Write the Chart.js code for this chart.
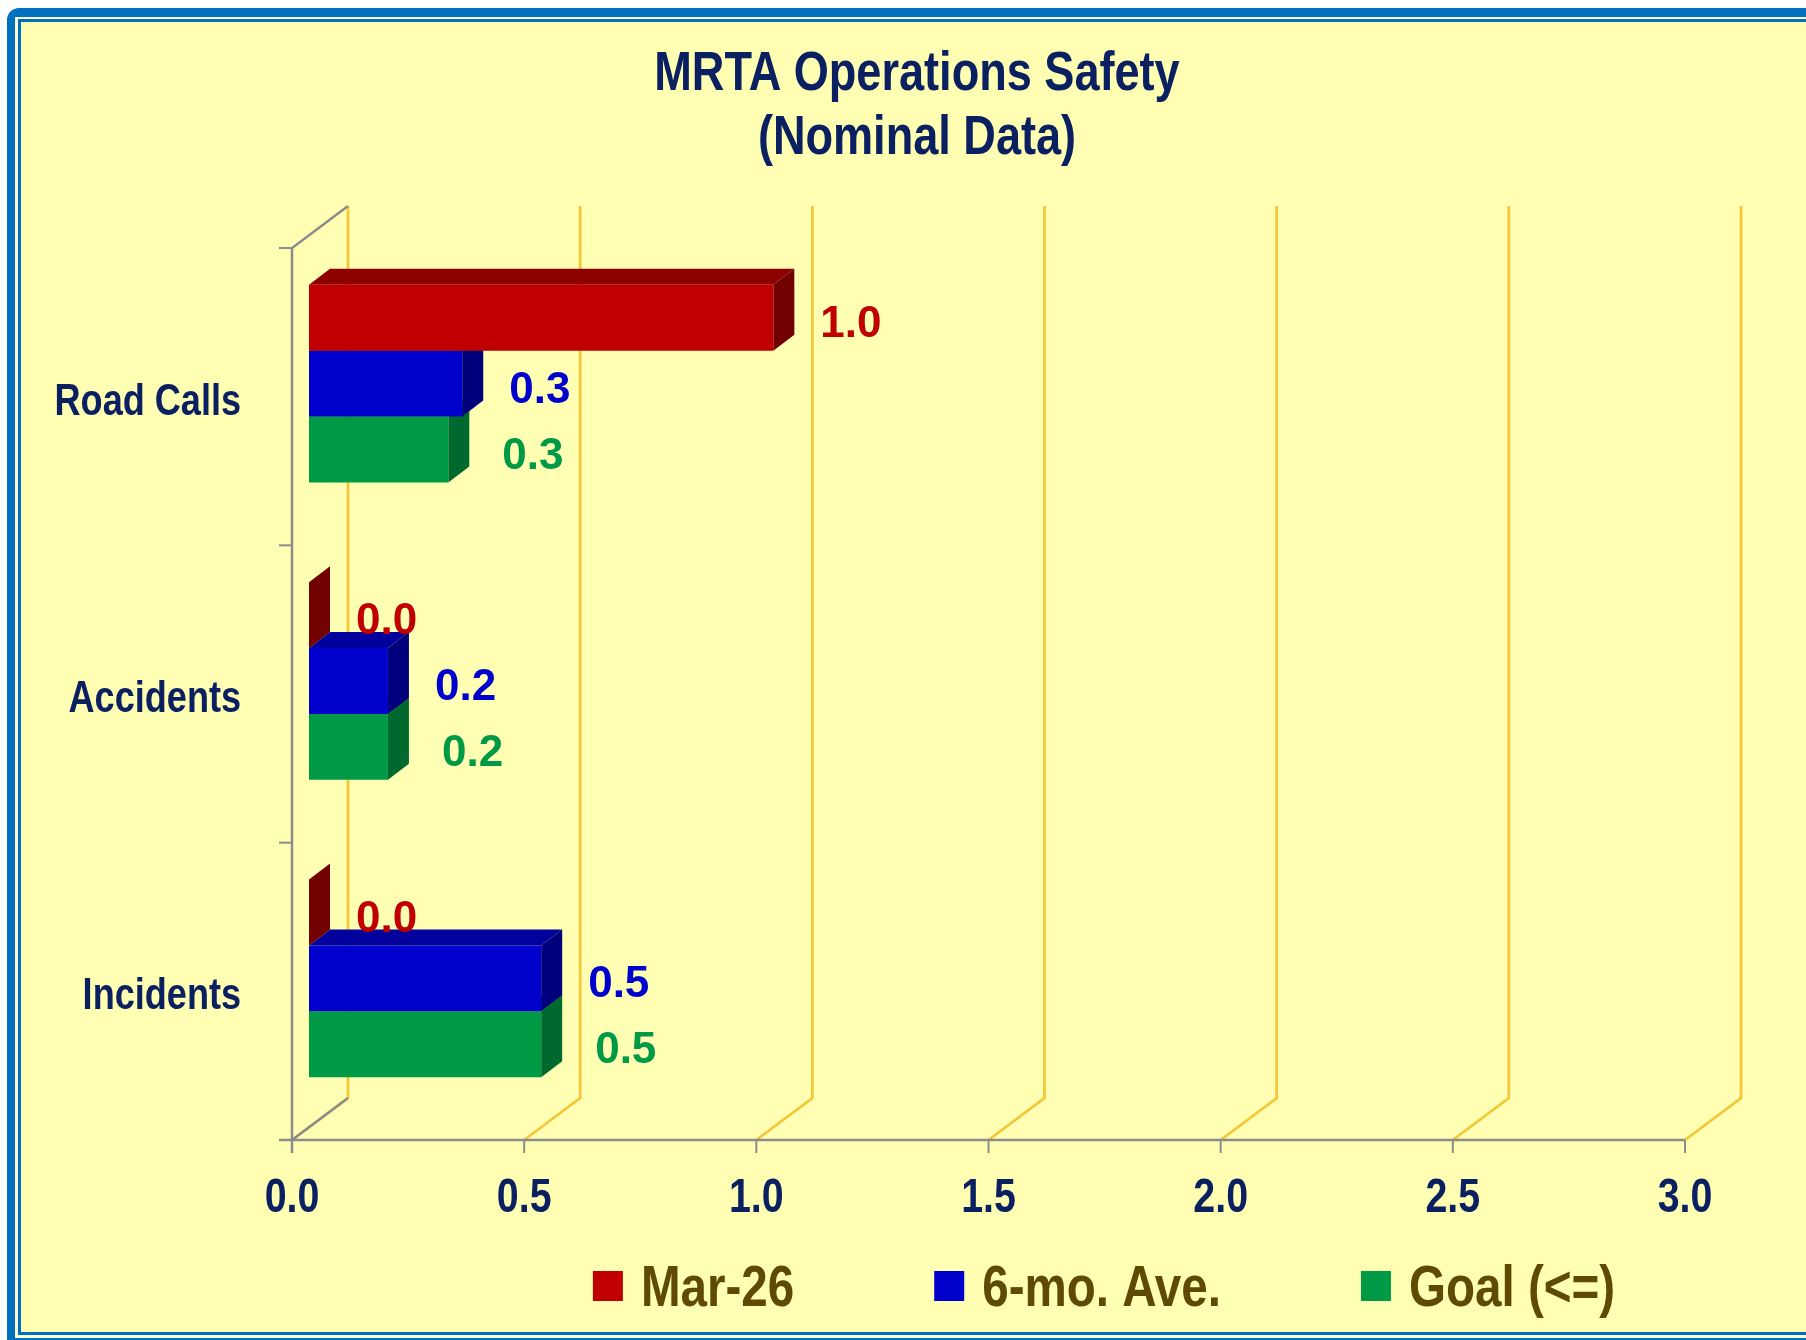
<!DOCTYPE html>
<html>
<head>
<meta charset="utf-8">
<title>MRTA Operations Safety</title>
<script src="https://cdn.jsdelivr.net/npm/chart.js@4.4.1/dist/chart.umd.min.js"></script>
<style>
  html, body { margin: 0; padding: 0; background: #ffffff; }
  #wrap { width: 1806px; height: 1340px; }
</style>
</head>
<body>
<div id="wrap"><canvas id="safetyChart" width="1806" height="1340"></canvas></div>
<script>
// chart data
const titleLines = ['MRTA Operations Safety', '(Nominal Data)'];
const categories = ['Road Calls', 'Accidents', 'Incidents'];
const seriesNames = ['Mar-26', '6-mo. Ave.', 'Goal (<=)'];
const mar26 = [1.0, 0.0, 0.0];
const sixMoAve = [0.33, 0.17, 0.5];
const goal = [0.30, 0.17, 0.5];
const xMin = 0, xMax = 3, xStep = 0.5;

const WIDE = '"Liberation Sans", Arial, sans-serif';
const NARROW_K = 0.82;   // no Arial Narrow here, so squeeze Liberation Sans
const NAVY = '#0b2060';

// front / top / side shades for each series
const shades = [
    {front: '#c00000', top: '#8e0000', side: '#730000'},
    {front: '#0000cc', top: '#00009c', side: '#00007c'},
    {front: '#009a46', top: '#007a36', side: '#006a2e'}
];
const labelGap = [47, 47, 54];

const SHIFT = {x: 17, y: -13};   // bar plane relative to front plane
const DEPTH = {x: 21, y: -16};   // bar depth
const WALL = {x: 56, y: -42};    // back wall relative to front plane

function poly(ctx, pts, fill) {
    ctx.beginPath();
    ctx.moveTo(pts[0][0], pts[0][1]);
    for (let i = 1; i < pts.length; i++) ctx.lineTo(pts[i][0], pts[i][1]);
    ctx.closePath();
    ctx.fillStyle = fill;
    ctx.fill();
}

function line(ctx, pts, color, w) {
    ctx.beginPath();
    ctx.moveTo(pts[0][0], pts[0][1]);
    for (let i = 1; i < pts.length; i++) ctx.lineTo(pts[i][0], pts[i][1]);
    ctx.strokeStyle = color;
    ctx.lineWidth = w;
    ctx.stroke();
}

function narrowText(ctx, text, x, y, size, color, align) {
    ctx.save();
    ctx.font = `bold ${size}px ${WIDE}`;
    ctx.fillStyle = color;
    ctx.textAlign = align;
    ctx.textBaseline = 'middle';
    ctx.translate(x, y);
    ctx.scale(NARROW_K, 1);
    ctx.fillText(text, 0, 0);
    ctx.restore();
}

function narrowWidth(ctx, text, size) {
    ctx.save();
    ctx.font = `bold ${size}px ${WIDE}`;
    const w = ctx.measureText(text).width * NARROW_K;
    ctx.restore();
    return w;
}

const box3d = {
    id: 'box3d',
    beforeDraw(chart) {
        const {ctx, width, height} = chart;
        ctx.save();
        ctx.fillStyle = '#ffffff';
        ctx.fillRect(0, 0, width, height);
        ctx.fillStyle = '#0070c0';
        ctx.beginPath();
        ctx.roundRect(7, 8, width + 40, height + 40, 12);
        ctx.fill();
        ctx.fillStyle = '#ffffd2';
        ctx.fillRect(15, 17, width, 1338 - 17);
        ctx.fillStyle = '#0070c0';
        ctx.fillRect(18, 19, width, 1335 - 19);
        ctx.fillStyle = '#ffffb4';
        ctx.fillRect(21, 22, width, 1332 - 22);
        ctx.restore();

        // title
        titleLines.forEach((t, i) => narrowText(ctx, t, 917, 75 + i * 64, 55, NAVY, 'center'));
    },
    beforeDatasetsDraw(chart) {
        const {ctx, chartArea: a} = chart;
        const xs = chart.scales.x, ys = chart.scales.y;
        ctx.save();
        ctx.lineCap = 'butt';
        // back wall grid and floor lines
        xs.ticks.forEach(t => {
            const px = xs.getPixelForValue(t.value);
            line(ctx, [[px + WALL.x, a.top + WALL.y], [px + WALL.x, a.bottom + WALL.y], [px, a.bottom]], '#f2c838', 2.8);
        });
        // left wall edges and axes
        const gray = '#8c8c8c';
        line(ctx, [[a.left + WALL.x, a.top + WALL.y], [a.left, a.top], [a.left, a.bottom + 13]], gray, 2.5);
        line(ctx, [[a.left, a.bottom], [a.left + WALL.x, a.bottom + WALL.y]], gray, 2.5);
        line(ctx, [[a.left - 13, a.bottom], [a.right, a.bottom]], gray, 2.5);
        xs.ticks.forEach(t => {
            const px = xs.getPixelForValue(t.value);
            line(ctx, [[px, a.bottom], [px, a.bottom + 13]], gray, 2);
        });
        const n = categories.length;
        for (let i = 0; i < n; i++) {
            const yy = a.top + i * (a.bottom - a.top) / n;
            line(ctx, [[a.left - 13, yy], [a.left, yy]], gray, 2);
        }
        ctx.restore();

        // tick labels
        xs.ticks.forEach(t => {
            narrowText(ctx, Number(t.value).toFixed(1), xs.getPixelForValue(t.value), a.bottom + 59, 48, NAVY, 'center');
        });
        ys.getLabels().forEach((lab, i) => {
            narrowText(ctx, lab, a.left - 51, ys.getPixelForValue(i) + 6, 44, NAVY, 'right');
        });

        // top and side faces, lowest series first
        ctx.save();
        for (let d = chart.data.datasets.length - 1; d >= 0; d--) {
            const meta = chart.getDatasetMeta(d);
            meta.data.forEach(bar => {
                const {x, y, base, height} = bar.getProps(['x', 'y', 'base', 'height'], true);
                const x0 = base + SHIFT.x, x1 = x + SHIFT.x;
                const yt = y - height / 2 + SHIFT.y, yb = y + height / 2 + SHIFT.y;
                poly(ctx, [[x0, yt], [x0 + DEPTH.x, yt + DEPTH.y], [x1 + DEPTH.x, yt + DEPTH.y], [x1, yt]], shades[d].top);
                poly(ctx, [[x1, yt], [x1 + DEPTH.x, yt + DEPTH.y], [x1 + DEPTH.x, yb + DEPTH.y], [x1, yb]], shades[d].side);
            });
        }
        ctx.restore();
        // front faces are drawn by Chart.js on the bar plane
        ctx.save();
        ctx.translate(SHIFT.x, SHIFT.y);
    },
    afterDatasetsDraw(chart) {
        const {ctx} = chart;
        ctx.restore();
        ctx.save();
        ctx.font = `bold 44px ${WIDE}`;
        ctx.textAlign = 'left';
        ctx.textBaseline = 'middle';
        chart.data.datasets.forEach((ds, d) => {
            chart.getDatasetMeta(d).data.forEach((bar, i) => {
                const {x, y} = bar.getProps(['x', 'y'], true);
                ctx.fillStyle = shades[d].front;
                ctx.fillText(ds.data[i].toFixed(1), x + SHIFT.x + labelGap[d], y + SHIFT.y + 7);
            });
        });
        ctx.restore();
    },
    afterDraw(chart) {
        // legend row
        const {ctx} = chart;
        const SIZE = 58, BOX = 30, GAP = 18, SPACE = 140, CX = 1104, CY = 1286;
        const widths = seriesNames.map(s => narrowWidth(ctx, s, SIZE));
        let total = SPACE * (seriesNames.length - 1);
        widths.forEach(w => total += BOX + GAP + w);
        let x = CX - total / 2;
        seriesNames.forEach((s, i) => {
            ctx.fillStyle = shades[i].front;
            ctx.fillRect(x, CY - BOX / 2, BOX, BOX);
            narrowText(ctx, s, x + BOX + GAP, CY + 4, SIZE, '#5e4a00', 'left');
            x += BOX + GAP + widths[i] + SPACE;
        });
    }
};

new Chart(document.getElementById('safetyChart').getContext('2d'), {
    type: 'bar',
    data: {
        labels: categories,
        datasets: [
            {label: seriesNames[0], data: mar26, backgroundColor: shades[0].front},
            {label: seriesNames[1], data: sixMoAve, backgroundColor: shades[1].front},
            {label: seriesNames[2], data: goal, backgroundColor: shades[2].front}
        ]
    },
    options: {
        indexAxis: 'y',
        responsive: false,
        animation: false,
        devicePixelRatio: 1,
        datasets: {bar: {categoryPercentage: 0.665, barPercentage: 1.0, borderWidth: 0, clip: false}},
        layout: {padding: {top: 248, left: 149, right: 121, bottom: 0}},
        plugins: {
            legend: {display: false},
            tooltip: {enabled: false},
            title: {display: false}
        },
        scales: {
            x: {
                min: xMin,
                max: xMax,
                grid: {display: false, drawTicks: false},
                border: {display: false},
                ticks: {stepSize: xStep, display: false},
                afterFit: s => { s.height = 200; s.paddingLeft = 0; s.paddingRight = 0; }
            },
            y: {
                grid: {display: false, drawTicks: false},
                border: {display: false},
                ticks: {display: false},
                afterFit: s => { s.width = 143; s.paddingTop = 0; s.paddingBottom = 0; }
            }
        }
    },
    plugins: [box3d]
});
</script>
</body>
</html>
